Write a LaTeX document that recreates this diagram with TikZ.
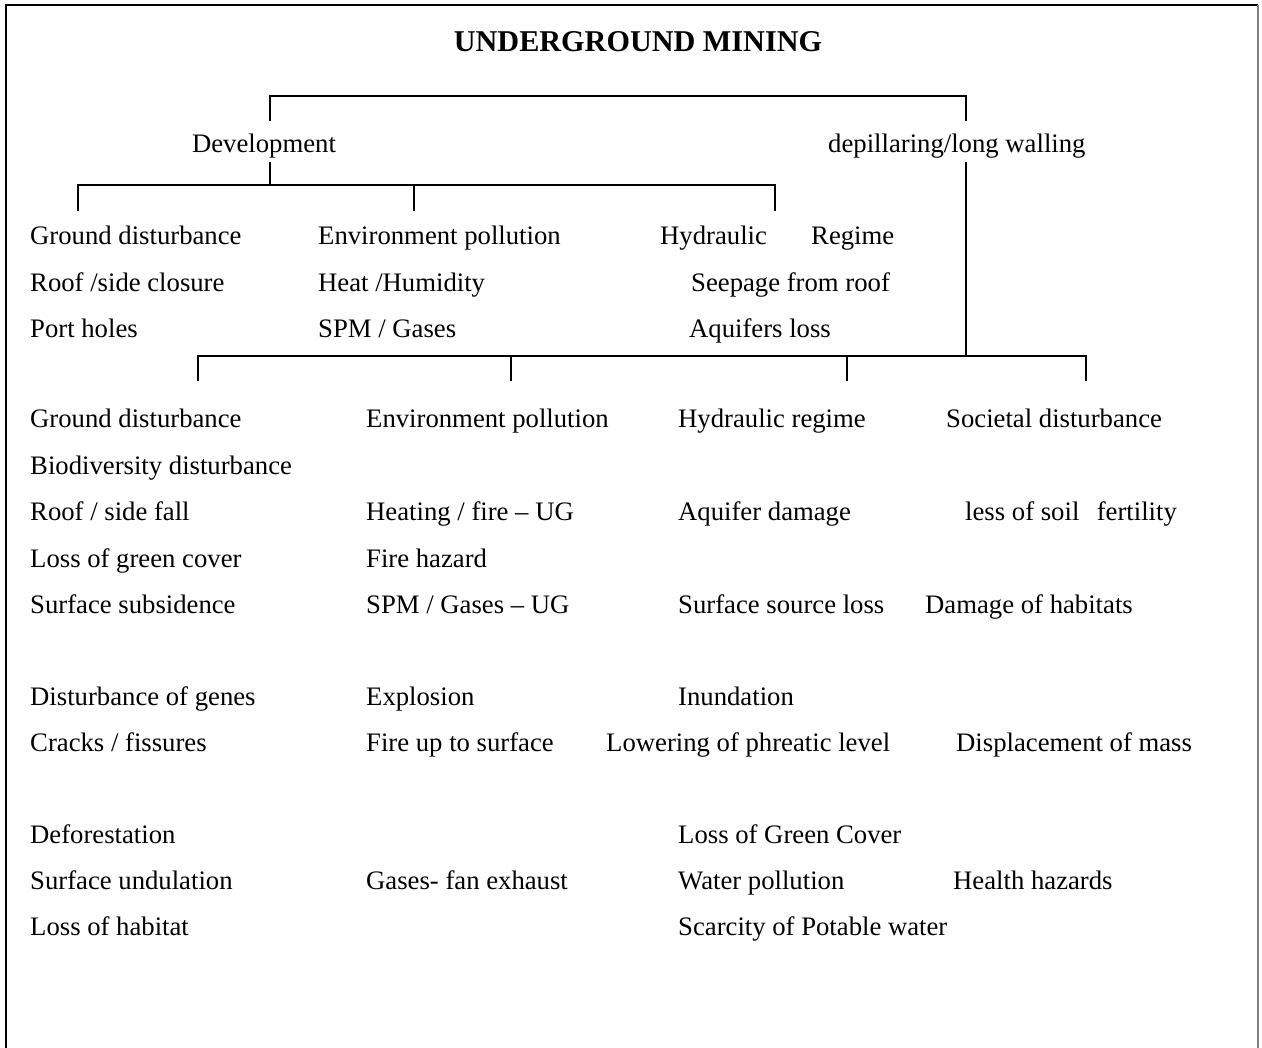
\documentclass[tikz,border=0pt]{standalone}
\usepackage{fontspec}
\setmainfont{Liberation Serif}
\begin{document}
\begin{tikzpicture}[x=1pt,y=-1pt,
  txt/.style={anchor=base west, inner sep=0pt, font=\fontsize{26.7}{32}\selectfont},
  ctxt/.style={anchor=base, inner sep=0pt, font=\fontsize{26.7}{32}\selectfont},
  ln/.style={line width=1.8pt, line cap=rect}]
\useasboundingbox (0,0) rectangle (1262,1048);
% frame (open at the bottom)
\draw[line width=2pt] (6,1052) -- (6,5) -- (1258,5);
\draw[line width=2pt, gray] (1258,5) -- (1258,1052);
% title
\node[anchor=base, inner sep=0pt, font=\bfseries\fontsize{30.2}{35}\selectfont] (title) at (638,52) {UNDERGROUND MINING};
% level 1
\node[ctxt] (dev) at (264,153) {Development};
\node[txt] (dep) at (828,153) {depillaring/long walling};
\coordinate (t1) at (270,96);
\coordinate (t2) at (966,96);
\draw[ln] (270,120) -- (t1) -- (t2) -- (966,120);
% development bracket
\coordinate (d0) at (270,185);
\draw[ln] (270,163) -- (d0);
\draw[ln] (78,210) -- (78,185) -- (775,185) -- (775,210);
\draw[ln] (414,185) -- (414,210);
% development items
\node[txt] (a1) at (30,245) {Ground disturbance};
\node[txt] (a2) at (30,292) {Roof /side closure};
\node[txt] (a3) at (30,338) {Port holes};
\node[txt] (b1) at (318,245) {Environment pollution};
\node[txt] (b2) at (318,292) {Heat /Humidity};
\node[txt] (b3) at (318,338) {SPM / Gases};
\node[txt] (c1) at (660,245) {Hydraulic};
\node[txt] (c1b) at (811,245) {Regime};
\node[txt] (c2) at (691,292) {Seepage from roof};
\node[txt] (c3) at (689,338) {Aquifers loss};
% depillaring bracket
\draw[ln] (966,163) -- (966,356);
\draw[ln] (198,380) -- (198,356) -- (1086,356) -- (1086,380);
\draw[ln] (511,356) -- (511,380);
\draw[ln] (847,356) -- (847,380);
% column 1
\node[txt] (p1) at (30,428) {Ground disturbance};
\node[txt] (p2) at (30,475) {Biodiversity disturbance};
\node[txt] (p3) at (30,521) {Roof / side fall};
\node[txt] (p4) at (30,567) {Loss of green cover};
\node[txt] (p5) at (30,613) {Surface subsidence};
\node[txt] (p6) at (30,705) {Disturbance of genes};
\node[txt] (p7) at (30,751) {Cracks / fissures};
\node[txt] (p8) at (30,843) {Deforestation};
\node[txt] (p9) at (30,889) {Surface undulation};
\node[txt] (p10) at (30,935) {Loss of habitat};
% column 2
\node[txt] (q1) at (366,428) {Environment pollution};
\node[txt] (q2) at (366,521) {Heating / fire -- UG};
\node[txt] (q3) at (366,567) {Fire hazard};
\node[txt] (q4) at (366,613) {SPM / Gases -- UG};
\node[txt] (q5) at (366,705) {Explosion};
\node[txt] (q6) at (366,751) {Fire up to surface};
\node[txt] (q7) at (366,889) {Gases- fan exhaust};
% column 3
\node[txt] (r1) at (678,428) {Hydraulic regime};
\node[txt] (r2) at (678,521) {Aquifer damage};
\node[txt] (r3) at (678,613) {Surface source loss};
\node[txt] (r4) at (678,705) {Inundation};
\node[txt] (r5) at (606,751) {Lowering of phreatic level};
\node[txt] (r6) at (678,843) {Loss of Green Cover};
\node[txt] (r7) at (678,889) {Water pollution};
\node[txt] (r8) at (678,935) {Scarcity of Potable water};
% column 4
\node[txt] (s1) at (946,428) {Societal disturbance};
\node[txt] (s2) at (965,521) {less of soil\hspace{0.65em}fertility};
\node[txt] (s3) at (925,613) {Damage of habitats};
\node[txt] (s4) at (956,751) {Displacement of mass};
\node[txt] (s5) at (953,889) {Health hazards};
\end{tikzpicture}
\end{document}
